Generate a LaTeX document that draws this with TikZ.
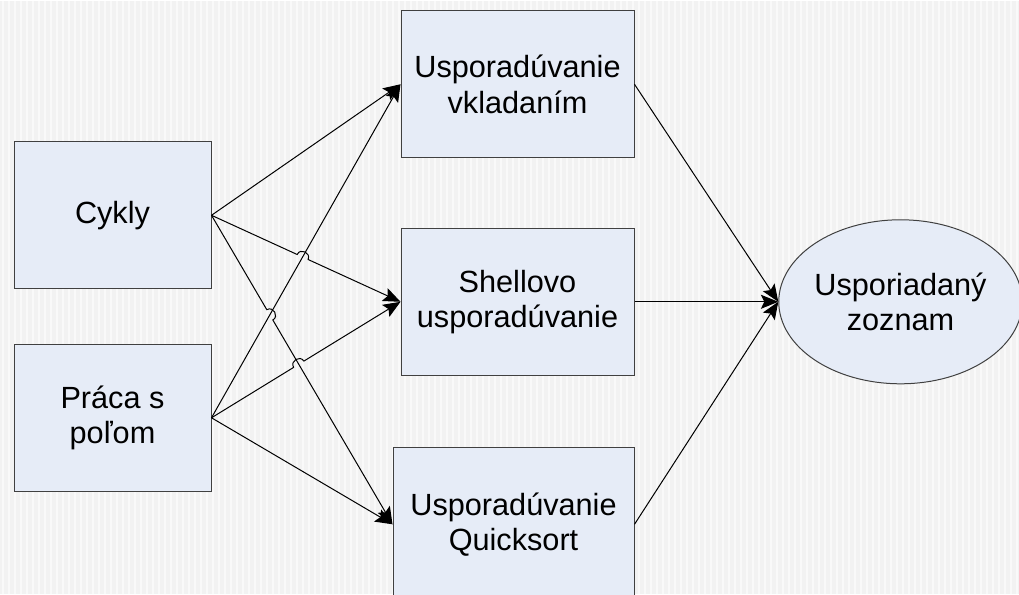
\documentclass[tikz,border=0pt]{standalone}
\usepackage{fontspec}
\setmainfont{Liberation Sans}
\usetikzlibrary{arrows.meta,shapes.geometric,intersections,calc}
\definecolor{boxblue}{RGB}{230,236,247}
\definecolor{bggray}{RGB}{242,242,242}

\begin{document}
\begin{tikzpicture}[x=0.75pt,y=0.75pt,font=\fontsize{23}{26.5}\selectfont]
		\tikzset{
			topic/.style=
			{draw=black!75,fill=boxblue,line width=0.75pt,align=center,minimum height=110.25pt},
			goal/.style=
			{ellipse,draw=black!75,fill=boxblue,line width=0.75pt,align=center,minimum width=176pt,minimum height=123pt,inner sep=0pt},
			conn/.style=
			{draw,line width=0.75pt,-{Stealth[length=13pt,width=10.5pt,inset=2.5pt]}},
			hop/.style=
			{bend left=90,looseness=1.6},
		}
		\fill[bggray] (0,0) rectangle (1019,593);
		\foreach \i in {3,9,...,1019}
			\draw[white,opacity=0.6,line width=1.2pt] (\i,0) -- (\i,593);
		\useasboundingbox (0,0) rectangle (1019,593);
		\node[topic,minimum width=147.75pt] (cy) at (112.5,378.5) {Cykly};
		\node[topic,minimum width=147.75pt] (pr) at (112.5,176) {Práca s\\poľom};
		\node[topic,minimum width=174.75pt] (vk) at (517.5,509.5) {Usporadúvanie\\vkladaním};
		\node[topic,minimum width=174.75pt] (sh) at (517.5,292) {Shellovo\\usporadúvanie};
		\node[topic,minimum width=180.75pt,minimum height=114.75pt] (qs) at (513.5,69.5) {Usporadúvanie\\Quicksort};
		\node[goal] (zn) at (900.5,292) {Usporiadaný\\zoznam};
		\path[name path=p1] (pr.east) -- (vk.west);
		\path[name path=p2] (pr.east) -- (sh.west);
		\path[name path=c2] (cy.east) -- (sh.west);
		\path[name path=c3] (cy.east) -- (qs.west);
		\path[name intersections={of=c2 and p1,by=x1}];
		\path[name intersections={of=c3 and p1,by=x2}];
		\path[name intersections={of=p2 and c3,by=x3}];
		\draw[conn] (cy.east) -- (vk.west);
		\draw[conn] (cy.east) -- ($(x1)!4.5pt!(cy.east)$) to[hop] ($(x1)!4.5pt!(sh.west)$) -- (sh.west);
		\draw[conn] (cy.east) -- ($(x2)!4.5pt!(cy.east)$) to[hop] ($(x2)!4.5pt!(qs.west)$) -- (qs.west);
		\draw[conn] (pr.east) -- (vk.west);
		\draw[conn] (pr.east) -- ($(x3)!4.5pt!(pr.east)$) to[hop] ($(x3)!4.5pt!(sh.west)$) -- (sh.west);
		\draw[conn] (pr.east) -- (qs.west);
		\draw[conn] (vk.east) -- (zn.west);
		\draw[conn] (sh.east) -- (zn.west);
		\draw[conn] (qs.east) -- (zn.west);
\end{tikzpicture}
\end{document}
